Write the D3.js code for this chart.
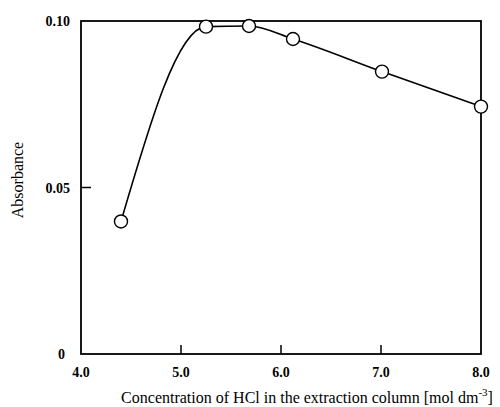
<!DOCTYPE html>
<html>
<head>
<meta charset="utf-8">
<script src="https://cdn.jsdelivr.net/npm/d3@7"></script>
<style>
  body { margin: 0; background: #fff; }
  svg text { font-family: "Liberation Serif", "DejaVu Serif", serif; fill: #000; }
</style>
</head>
<body>
<svg id="chart" width="500" height="407"></svg>
<script>
(function() {
  'use strict';

  // HCl concentration (mol dm-3) vs absorbance
  const concentration = [4.4, 5.25, 5.68, 6.12, 7.01, 8.0];
  const absorbance = [0.0398, 0.0983, 0.0985, 0.0946, 0.0848, 0.0743];

  const xTicks = [4, 5, 6, 7, 8];
  const yTicks = [0, 0.05, 0.10];
  const xTitle = 'Concentration of HCl in the extraction column [mol dm';
  const yTitle = 'Absorbance';

  const left = 81, right = 481, top = 21, bottom = 354;

  const x = d3.scaleLinear().domain([4, 8]).range([left, right]);
  const y = d3.scaleLinear().domain([0, 0.10]).range([bottom, top]);

  const svg = d3.select('#chart');

  // frame
  svg.append('rect')
    .attr('x', left)
    .attr('y', top)
    .attr('width', right - left)
    .attr('height', bottom - top)
    .attr('fill', 'none')
    .attr('stroke', '#000')
    .attr('stroke-width', 1.8);

  // inward ticks
  svg.append('g')
    .selectAll('line')
    .data(xTicks.slice(1, -1))
    .enter()
    .append('line')
      .attr('x1', d => x(d))
      .attr('x2', d => x(d))
      .attr('y1', bottom)
      .attr('y2', bottom - 9)
      .attr('stroke', '#000')
      .attr('stroke-width', 1.5);

  svg.append('g')
    .selectAll('line')
    .data(yTicks.slice(1, -1))
    .enter()
    .append('line')
      .attr('x1', left)
      .attr('x2', left + 10)
      .attr('y1', d => y(d))
      .attr('y2', d => y(d))
      .attr('stroke', '#000')
      .attr('stroke-width', 1.5);

  // tick labels
  svg.append('g')
    .selectAll('text')
    .data(xTicks)
    .enter()
    .append('text')
      .attr('x', d => x(d))
      .attr('y', 377)
      .attr('text-anchor', 'middle')
      .attr('font-size', 14)
      .attr('font-weight', 'bold')
      .text(d3.format('.1f'));

  svg.append('g')
    .selectAll('text')
    .data(yTicks)
    .enter()
    .append('text')
      .attr('x', d => d === 0 ? 65 : 70)
      .attr('y', d => y(d) + 5)
      .attr('text-anchor', 'end')
      .attr('font-size', 14)
      .attr('font-weight', 'bold')
      .text(d => d === 0 ? '0' : d3.format('.2f')(d));

  // axis titles
  const xt = svg.append('text')
    .attr('x', 307)
    .attr('y', 403)
    .attr('text-anchor', 'middle')
    .attr('font-size', 16)
    .text(xTitle);
  xt.append('tspan')
    .attr('dy', -7)
    .attr('font-size', 11)
    .text('-3');
  xt.append('tspan')
    .attr('dy', 7)
    .text(']');

  svg.append('text')
    .attr('transform', 'translate(23,180) rotate(-90)')
    .attr('text-anchor', 'middle')
    .attr('font-size', 16)
    .text(yTitle);

  // fitted curve
  const pts = concentration.map((c, i) => [c, absorbance[i]]);

  const line = d3.line()
    .x(d => x(d[0]))
    .y(d => y(d[1]))
    .curve(d3.curveMonotoneX);

  svg.append('path')
    .datum(pts)
    .attr('d', line)
    .attr('fill', 'none')
    .attr('stroke', '#000')
    .attr('stroke-width', 1.6);

  svg.append('g')
    .selectAll('circle')
    .data(pts)
    .enter()
    .append('circle')
      .attr('cx', d => x(d[0]))
      .attr('cy', d => y(d[1]))
      .attr('r', 6.5)
      .attr('fill', '#fff')
      .attr('stroke', '#000')
      .attr('stroke-width', 1.4);
})();
</script>
</body>
</html>
